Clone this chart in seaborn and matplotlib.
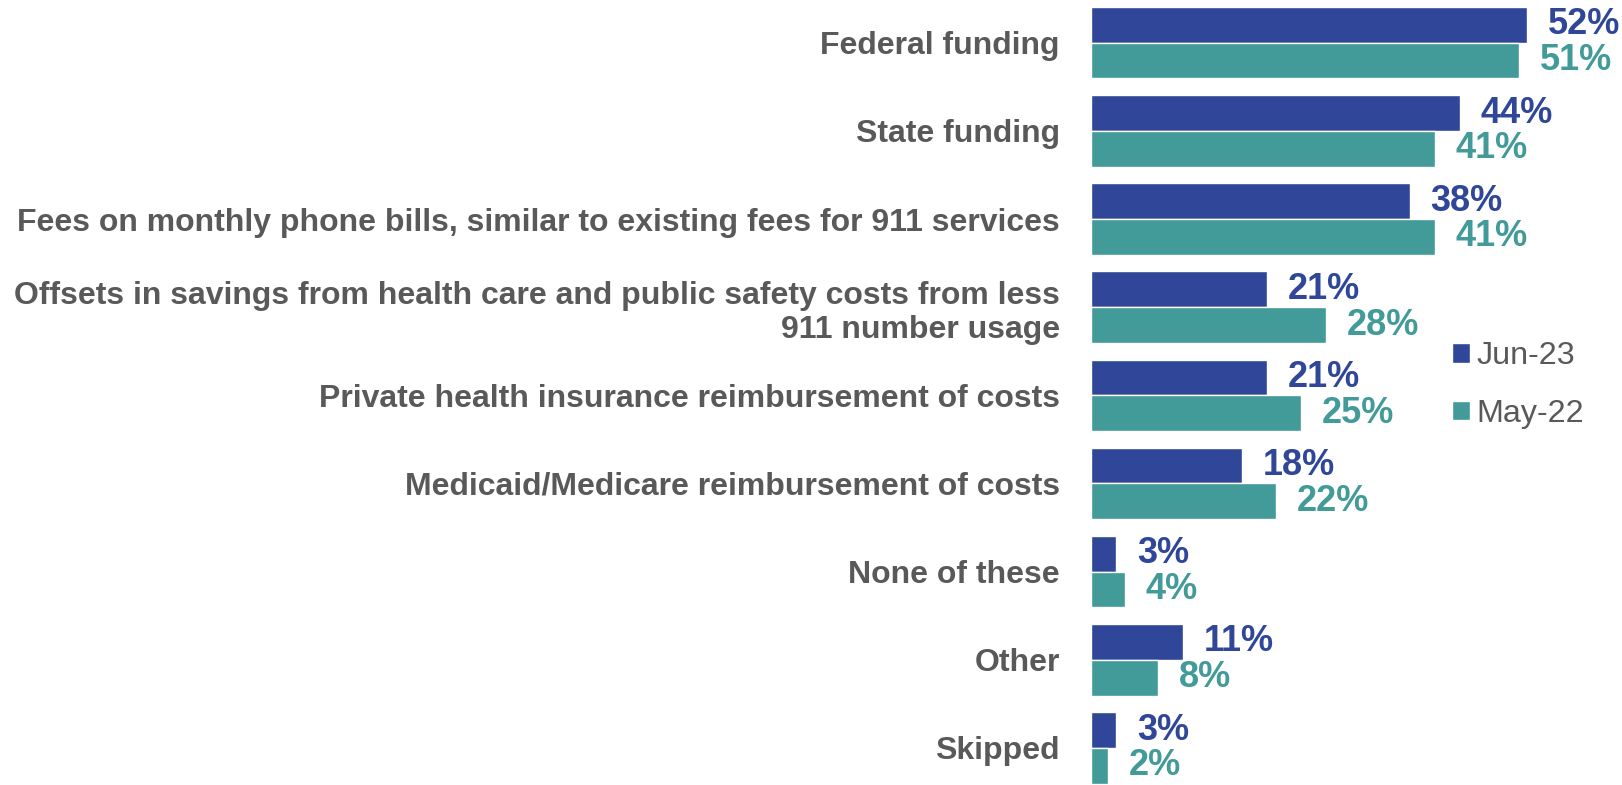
import matplotlib
matplotlib.use("Agg")
import matplotlib.pyplot as plt
import seaborn as sns
import pandas as pd

categories = [
    "Federal funding",
    "State funding",
    "Fees on monthly phone bills, similar to existing fees for 911 services",
    "Offsets in savings from health care and public safety costs from less\n911 number usage",
    "Private health insurance reimbursement of costs",
    "Medicaid/Medicare reimbursement of costs",
    "None of these",
    "Other",
    "Skipped",
]
jun_23 = [52, 44, 38, 21, 21, 18, 3, 11, 3]
may_22 = [51, 41, 41, 28, 25, 22, 4, 8, 2]
series = ["Jun-23", "May-22"]
colors = ["#2F4699", "#429A99"]
grey = "#595959"

df = pd.DataFrame({
    "category": categories * 2,
    "value": jun_23 + may_22,
    "period": [series[0]] * len(categories) + [series[1]] * len(categories),
})

sns.set_style("white")
plt.rcParams["font.family"] = ["Liberation Sans", "DejaVu Sans"]

fig = plt.figure(figsize=(16.22, 7.85), dpi=100)
ax = fig.add_axes([1091 / 1622, 0.0, 1 - 1091 / 1622, 1 - 7 / 785])

sns.barplot(data=df, y="category", x="value", hue="period", orient="h",
            palette=colors, width=0.81, gap=0, saturation=1, ax=ax)

ax.set_xlim(0, 63.3)
ax.set_ylim(8.42, -0.405)
ax.set_xlabel("")
ax.set_ylabel("")
ax.set_xticks([])
sns.despine(ax=ax, left=True, bottom=True)
ax.tick_params(axis="y", length=0, pad=22.5)
for lbl in ax.get_yticklabels():
    lbl.set_fontsize(23.0)
    lbl.set_fontweight("bold")
    lbl.set_color(grey)
    lbl.set_horizontalalignment("right")
    lbl.set_multialignment("right")

# value labels beside each bar, in the bar's colour
for cont, col in zip(ax.containers, colors):
    ax.bar_label(cont, labels=[f"{int(v)}%" for v in cont.datavalues],
                 padding=15, fontsize=26, fontweight="bold", color=col)

handles, labels = ax.get_legend_handles_labels()
ax.legend(handles, labels, loc="center left", bbox_to_anchor=(1423 / 1622, 1 - 385 / 785),
          bbox_transform=fig.transFigure, frameon=False, fontsize=23.2,
          handlelength=0.55, handleheight=0.55, handletextpad=0.22,
          labelspacing=0.85, labelcolor=grey)

fig.savefig("out.png", dpi=100)
